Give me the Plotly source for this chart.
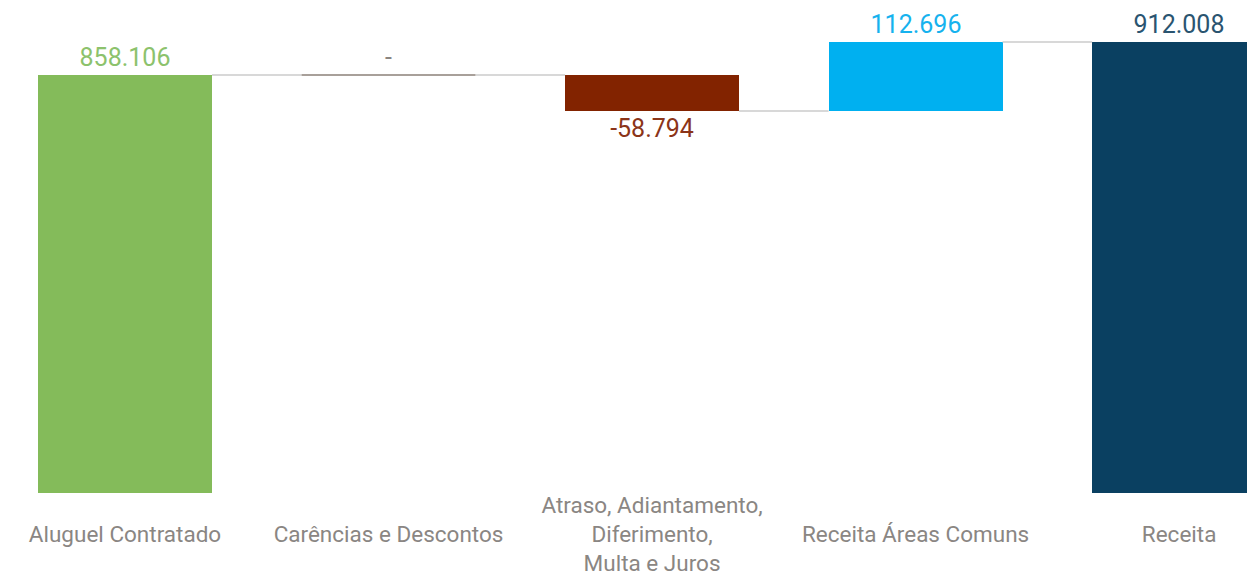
import plotly.graph_objects as go

categories = ["Aluguel Contratado", "Carências e Descontos",
              "Atraso, Adiantamento,<br>Diferimento,<br>Multa e Juros",
              "Receita Áreas Comuns", "Receita"]
values = [858.106, 0.0, -58.794, 112.696, 912.008]
measures = ["absolute", "relative", "relative", "relative", "total"]
value_labels = ["858.106", "-", "-58.794", "112.696", "912.008"]
bar_colors = ["#84BB5A", "#A09890", "#822300", "#00B0F0", "#0A4061"]
text_colors = ["#8CC26C", "#8A8580", "#8B3418", "#16B2EE", "#2A5470"]

# compute bases / tops
bases, heights, ends = [], [], []
running = 0.0
for v, m in zip(values, measures):
    if m in ("absolute", "total"):
        base = 0.0
        running = v
    else:
        base = running
        running = running + v
    bases.append(base)
    heights.append(v)
    ends.append(running)

xs = list(range(len(categories)))
W = 0.66
fig = go.Figure()

# connectors
cx, cy = [], []
for i in range(len(xs) - 1):
    cx += [xs[i] + W / 2, xs[i + 1] - W / 2, None]
    cy += [ends[i], ends[i], None]
fig.add_trace(go.Scatter(x=cx, y=cy, mode="lines",
                         line=dict(color="#CBCBCB", width=1.5),
                         hoverinfo="skip", showlegend=False))

# zero-value line
for i, v in enumerate(values):
    if v == 0:
        fig.add_trace(go.Scatter(x=[xs[i] - W / 2, xs[i] + W / 2], y=[ends[i], ends[i]],
                                 mode="lines", line=dict(color="#A8A09A", width=2),
                                 hoverinfo="skip", showlegend=False))

fig.add_trace(go.Bar(
    x=xs, y=heights, base=bases, width=W,
    marker=dict(color=bar_colors, line=dict(width=0)),
    text=value_labels, textposition="outside",
    textfont=dict(family="Roboto", size=25, color=text_colors),
    hoverinfo="skip", showlegend=False, cliponaxis=True,
))

ticktext = [c if "<br>" in c else "<br>" + c for c in categories]

fig.update_layout(
    width=1247, height=569,
    margin=dict(l=0, r=0, t=0, b=84),
    paper_bgcolor="white", plot_bgcolor="white",
    font=dict(family="Roboto", color="#8A8683"),
    xaxis=dict(range=[-0.444, 4.288], tickvals=xs, ticktext=ticktext,
               showgrid=False, zeroline=False, showline=False, ticks="",
               automargin=False, ticklabelstandoff=-4,
               tickfont=dict(family="Roboto", size=22.5, color="#8A8683")),
    yaxis=dict(range=[175, 967.6], visible=False, showgrid=False, zeroline=False),
    bargap=0,
)

fig.write_html("out.html")
